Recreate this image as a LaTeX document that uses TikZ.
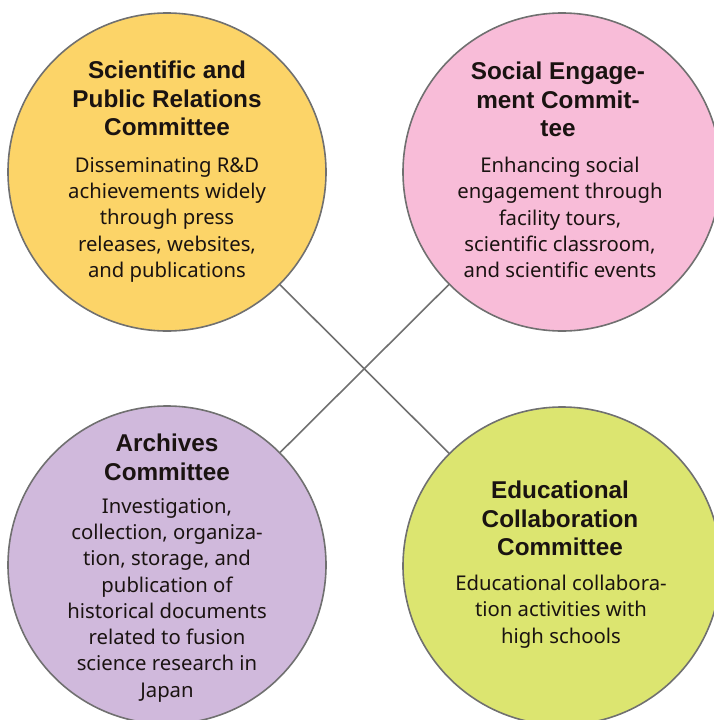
\documentclass[tikz,border=0pt]{standalone}
\usepackage{fontspec}
\setmainfont{Noto Sans}
\newfontfamily\titlefont{Liberation Sans}
\definecolor{cyellow}{HTML}{FCD468}
\definecolor{cpink}{HTML}{F8BCD8}
\definecolor{cpurple}{HTML}{D0B9DC}
\definecolor{cgreen}{HTML}{DCE570}
\definecolor{cline}{HTML}{707070}
\definecolor{ctext}{HTML}{1A1311}
\tikzset{
  committee/.style={circle, draw=cline, line width=1.6pt, minimum size=318pt, inner sep=0pt},
  link/.style={draw=cline, line width=1.6pt},
  title/.style={anchor=north, inner sep=0pt, align=center, text=ctext,
    font=\titlefont\bfseries\fontsize{24.3pt}{28.5pt}\selectfont},
  body/.style={anchor=north, inner sep=0pt, align=center, text=ctext,
    font=\fontsize{20.3pt}{26.3pt}\selectfont},
}
\begin{document}
\begin{tikzpicture}[x=1pt, y=-1pt]
\useasboundingbox (0,0) rectangle (714,720);
\begin{scope}
\clip (0,0) rectangle (714,720);
\coordinate (cy) at (167,172);
\coordinate (cp) at (562,172);
\coordinate (cu) at (167,565);
\coordinate (cg) at (562,566);
\draw[link] (cy) -- (cg);
\draw[link] (cp) -- (cu);
\node[committee, fill=cyellow] (yellow) at (cy) {};
\node[committee, fill=cpink] (pink) at (cp) {};
\node[committee, fill=cpurple] (purple) at (cu) {};
\node[committee, fill=cgreen] (green) at (cg) {};
\end{scope}
\node[title] (t1) at (167,61) {Scientific and\\Public Relations\\Committee};
\node[body] (b1) at (167,157) {Disseminating R\&D\\achievements widely\\through press\\releases, websites,\\and publications};
\node[title] (t2) at (558,62) {Social Engage-\\ment Commit-\\tee};
\node[body] (b2) at (560,157) {Enhancing social\\engagement through\\facility tours,\\scientific classroom,\\and scientific events};
\node[title] (t3) at (167,434) {Archives\\Committee};
\node[body] (b3) at (167,498) {Investigation,\\collection, organiza-\\tion, storage, and\\publication of\\historical documents\\related to fusion\\science research in\\Japan};
\node[title] (t4) at (560,481) {Educational\\Collaboration\\Committee};
\node[body] (b4) at (561,575) {Educational collabora-\\tion activities with\\high schools};
\end{tikzpicture}
\end{document}
